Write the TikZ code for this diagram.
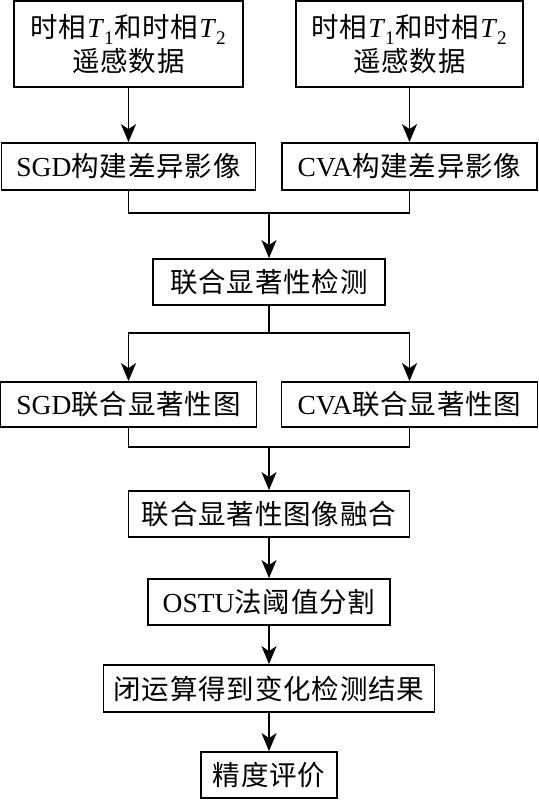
\documentclass[tikz,border=0pt]{standalone}
\usepackage{fontspec}
\setmainfont{Liberation Serif}
\newfontfamily\cjk[LetterSpace=3]{Noto Sans CJK SC}
\usetikzlibrary{arrows.meta}
\newcommand{\phaseT}[1]{\textrm{\textit{T}\textsubscript{\raisebox{-0.35ex}{#1}}}}

\begin{document}
\begin{tikzpicture}[x=1pt,y=-1pt]
\tikzset{
  procbox/.style={draw,line width=1.8pt,inner sep=0pt,align=center,font={\fontsize{27.5}{34}\selectfont\cjk}},
  directed/.style={-{Stealth[length=18pt,width=15pt,inset=5pt]},line width=1.8pt},
  undirected/.style={line width=1.8pt}
}
\useasboundingbox (0,0) rectangle (538,800);
\node[procbox,minimum width=229pt,minimum height=86pt] (n_dataA) at (128.5,44) {时相\phaseT{1}和时相\phaseT{2}\\遥感数据};
\node[procbox,minimum width=227pt,minimum height=86pt] (n_dataB) at (409.5,44) {时相\phaseT{1}和时相\phaseT{2}\\遥感数据};
\node[procbox,minimum width=254pt,minimum height=47pt] (n_sgd) at (128.5,166.5) {\textrm{SGD}构建差异影像};
\node[procbox,minimum width=255pt,minimum height=47pt] (n_cva) at (409.5,166.5) {\textrm{CVA}构建差异影像};
\node[procbox,minimum width=232pt,minimum height=46pt] (n_detect) at (269,282) {联合显著性检测};
\node[procbox,minimum width=256pt,minimum height=45pt] (n_sgdmap) at (128.5,404.5) {\textrm{SGD}联合显著性图};
\node[procbox,minimum width=256pt,minimum height=45pt] (n_cvamap) at (409.5,404.5) {\textrm{CVA}联合显著性图};
\node[procbox,minimum width=281pt,minimum height=46pt] (n_fuse) at (269,514) {联合显著性图像融合};
\node[procbox,minimum width=242pt,minimum height=46pt] (n_otsu) at (269,602) {\textrm{OSTU}法阈值分割};
\node[procbox,minimum width=331pt,minimum height=47pt] (n_close) at (269,688.5) {闭运算得到变化检测结果};
\node[procbox,minimum width=136pt,minimum height=46pt] (n_eval) at (269,775) {精度评价};
\coordinate (j_diff) at (269,213);
\coordinate (j_split) at (269,333);
\coordinate (j_map) at (269,447);
\draw[directed] (n_dataA) -- (n_sgd);
\draw[directed] (n_dataB) -- (n_cva);
\draw[undirected] (n_sgd.south) |- (j_diff) -| (n_cva.south);
\draw[directed] (j_diff) -- (n_detect);
\draw[undirected] (n_detect) -- (j_split);
\draw[directed] (j_split) -| (n_sgdmap);
\draw[directed] (j_split) -| (n_cvamap);
\draw[undirected] (n_sgdmap.south) |- (j_map) -| (n_cvamap.south);
\draw[directed] (j_map) -- (n_fuse);
\draw[directed] (n_fuse) -- (n_otsu);
\draw[directed] (n_otsu) -- (n_close);
\draw[directed] (n_close) -- (n_eval);
\end{tikzpicture}
\end{document}
